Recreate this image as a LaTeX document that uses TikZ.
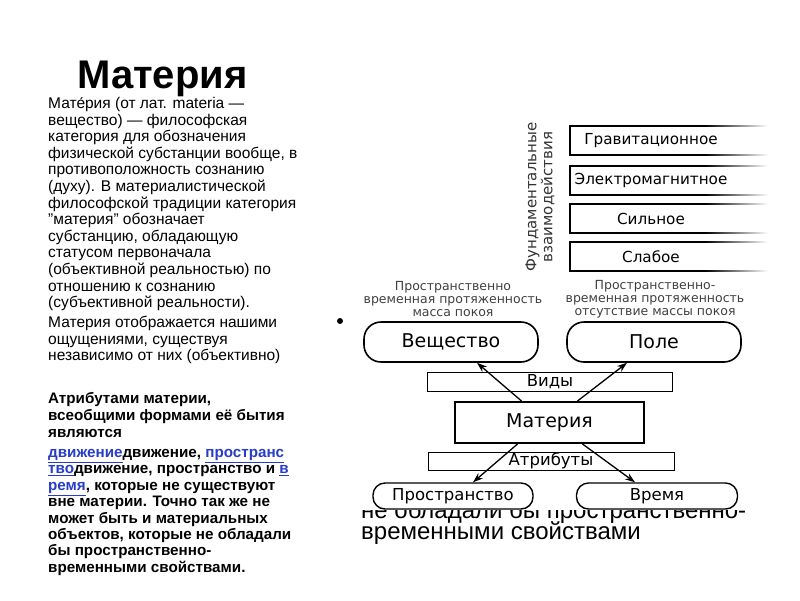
\documentclass[tikz,border=0pt]{standalone}
\usepackage{fontspec}
\setmainfont{Liberation Sans}
\newfontfamily\dejavu{DejaVu Sans}
\usepackage{tikz}
\usetikzlibrary{calc,arrows.meta}
\definecolor{linkblue}{RGB}{40,60,200}
\newcommand{\pixel}{1pt}
\newcommand{\forcebox}[4]{
	\draw[line width=1.3pt] (705,#2) -- (570,#2) -- (570,#3) -- (705,#3);
	\shade[left color=black, right color=white] (705,#2-0.65) rectangle (768,#2+0.65);
	\shade[left color=black, right color=white] (705,#3-0.65) rectangle (768,#3+0.65);
	\node[forcetext] (#1) at (651,{(#2+#3)/2}) {#4};
}
\newcommand{\lnk}[1]{\textcolor{linkblue}{\underline{#1}}}

\begin{document}
\begin{tikzpicture}[x=\pixel,y=-\pixel,
	forcetext/.style={font=\dejavu\fontsize{15.2}{18}\selectfont},
	note/.style={font=\dejavu\fontsize{12.5}{13}\selectfont, text=black!75, align=center},
	kind/.style={draw, line width=1.6pt, rounded corners=17pt, fill=white, minimum width=174pt, minimum height=40pt, font=\dejavu\fontsize{19}{22}\selectfont},
	attr/.style={draw, line width=1.4pt, rounded corners=12pt, fill=white, minimum height=26pt, inner sep=0pt, font=\dejavu\fontsize{16.5}{19}\selectfont},
	strip/.style={draw, line width=0.8pt, fill=white, minimum width=245pt, minimum height=19pt, inner sep=0pt, font=\dejavu\fontsize{16.5}{19}\selectfont},
	arr/.style={-{Stealth[length=10pt,width=7pt]}, line width=1.3pt},
	para/.style={anchor=north west, inner sep=0pt, align=left}]
	\useasboundingbox (0,0) rectangle (800,600);

	% left column
	\node[anchor=base west, inner sep=0pt, font=\bfseries\fontsize{40}{44}\selectfont] (title) at (77,88) {Материя};
	\node[para, font=\fontsize{15.5}{16.6}\selectfont] (def) at (48,97) {Мате́рия (от лат. materia —\\вещество) — философская\\категория для обозначения\\физической субстанции вообще, в\\противоположность сознанию\\(духу). В материалистической\\философской традиции категория\\"материя" обозначает\\субстанцию, обладающую\\статусом первоначала\\(объективной реальностью) по\\отношению к сознанию\\(субъективной реальности).};
	\node[para, font=\fontsize{15.5}{16.6}\selectfont] (sense) at (48,316) {Материя отображается нашими\\ощущениями, существуя\\независимо от них (объективно)};
	\node[para, font=\bfseries\fontsize{15.2}{17}\selectfont] (attrs) at (48,392) {Атрибутами материи,\\всеобщими формами её бытия\\являются};
	\node[para, font=\bfseries\fontsize{15.2}{16.4}\selectfont] (forms) at (48,449) {\lnk{движение}движение, \lnk{пространс}\\\lnk{тво}движение, пространство и \lnk{в}\\\lnk{ремя}, которые не существуют\\вне материи. Точно так же не\\может быть и материальных\\объектов, которые не обладали\\бы пространственно-\\временными свойствами.};

	% text hidden behind the scheme
	\fill (340,321) circle (3);
	\begin{scope}
	\clip (355,510) rectangle (800,560);
	\node[anchor=base west, inner sep=0pt, font=\fontsize{24}{27}\selectfont] (hidden) at (361,518) {не обладали бы пространственно-};
	\end{scope}
	\node[anchor=base west, inner sep=0pt, font=\fontsize{24}{27}\selectfont] (tail) at (361,539) {временными свойствами};

	% fundamental interactions
	\node[rotate=90, align=center, text=black!80, font=\dejavu\fontsize{15}{16}\selectfont] (fund) at (540,197) {Фундаментальные\\взаимодействия};
	\forcebox{grav}{126}{155}{Гравитационное}
	\forcebox{em}{166}{195}{Электромагнитное}
	\forcebox{strong}{204}{233}{Сильное}
	\forcebox{weak}{242}{271}{Слабое}

	% scheme
	\node[note] (vnote) at (453,299) {Пространственно\\временная протяженность\\масса покоя};
	\node[note] (pnote) at (655,299) {Пространственно-\\временная протяженность\\отсутствие массы покоя};
	\node[kind] (vesch) at (451,342) {Вещество};
	\node[kind] (pole) at (654,342) {Поле};
	\node[strip] (vidy) at (550,382) {Виды};
	\node[draw, line width=2pt, fill=white, minimum width=189pt, minimum height=41pt, font=\dejavu\fontsize{19}{22}\selectfont] (mat) at (549.5,422.5) {Материя};
	\node[strip, minimum width=246pt, minimum height=18pt] (atr) at (551,461) {Атрибуты};
	\node[attr, minimum width=160pt] (prostr) at (453,496) {Пространство};
	\node[attr, minimum width=161pt] (vremya) at (657,496) {Время};

	\draw[arr] ([xshift=-28pt]mat.north) -- ([xshift=26pt]vesch.south);
	\draw[arr] ([xshift=28pt]mat.north) -- ([xshift=-27pt]pole.south);
	\draw[arr] ([xshift=-32pt]mat.south) -- ([xshift=20pt]prostr.north);
	\draw[arr] ([xshift=33pt]mat.south) -- ([xshift=-22pt]vremya.north);
\end{tikzpicture}
\end{document}
